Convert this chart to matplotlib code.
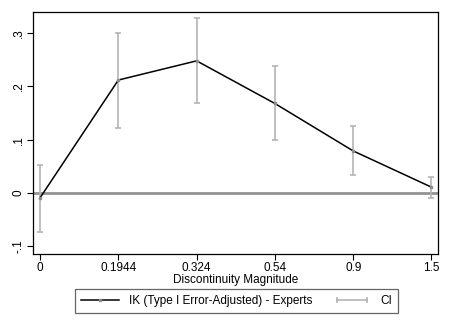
import numpy as np
import matplotlib.pyplot as plt
from matplotlib.lines import Line2D
from matplotlib.legend_handler import HandlerLine2D

plt.rcParams['font.family'] = ['Liberation Sans', 'DejaVu Sans']

# Data
magnitudes = ['0', '0.1944', '0.324', '0.54', '0.9', '1.5']
estimate = [-0.009, 0.212, 0.248, 0.168, 0.079, 0.011]
ci_upper = [0.053, 0.300, 0.328, 0.238, 0.125, 0.031]
ci_lower = [-0.073, 0.122, 0.168, 0.099, 0.034, -0.009]
yticks = [-0.1, 0, 0.1, 0.2, 0.3]
ytick_labels = ['-.1', '0', '.1', '.2', '.3']

x = np.arange(len(magnitudes))
est = np.array(estimate)
up = np.array(ci_upper)
lo = np.array(ci_lower)

fig = plt.figure(figsize=(4.5, 3.27), dpi=100)
ax = fig.add_axes([0.0733, 0.2232, 0.9, 0.740])

fs = 8.5
ci_color = '#b4b4b4'
# zero line
ax.axhline(0, color='#939393', lw=2.0, zorder=1)

# CI bars
ax.errorbar(x, est, yerr=[est - lo, up - est], fmt='none', ecolor=ci_color,
            elinewidth=1.2, capsize=2.5, capthick=1.2, zorder=2)

# estimate line
ax.plot(x, est, color='black', lw=1.1, marker='s', markersize=2,
        markerfacecolor='#8c8c8c', markeredgecolor='#8c8c8c', zorder=3)

ax.set_xlim(-0.09, 5.083)
ax.set_ylim(-0.1144, 0.3396)
ax.set_xticks(x)
ax.set_xticklabels(magnitudes, fontsize=fs)
ax.set_yticks(yticks)
ax.set_yticklabels(ytick_labels, fontsize=fs, rotation=90, va='center')
ax.tick_params(direction='out', length=4, width=0.8, pad=2)
ax.set_xlabel('Discontinuity Magnitude', fontsize=fs, labelpad=0)
for s in ax.spines.values():
    s.set_linewidth(0.9)

# legend
h_est = Line2D([], [], color='black', lw=1.1, marker='s', markersize=2,
               markerfacecolor='#8c8c8c', markeredgecolor='#8c8c8c')
h_ci = Line2D([], [], color=ci_color, lw=1.2, marker='|', markersize=4,
              markeredgewidth=1.2)
leg = fig.legend([h_est, h_ci], ['IK (Type I Error-Adjusted) - Experts', 'CI'],
                 loc='center', bbox_to_anchor=(0.526, 0.08), ncol=2,
                 fontsize=fs, frameon=True, fancybox=False, handlelength=3.2,
                 columnspacing=1.8, handletextpad=0.8, borderpad=0.5,
                 handler_map={h_ci: HandlerLine2D(numpoints=2)})
leg.get_frame().set_edgecolor('#404040')
leg.get_frame().set_linewidth(0.9)

fig.savefig('out.png', dpi=100)
